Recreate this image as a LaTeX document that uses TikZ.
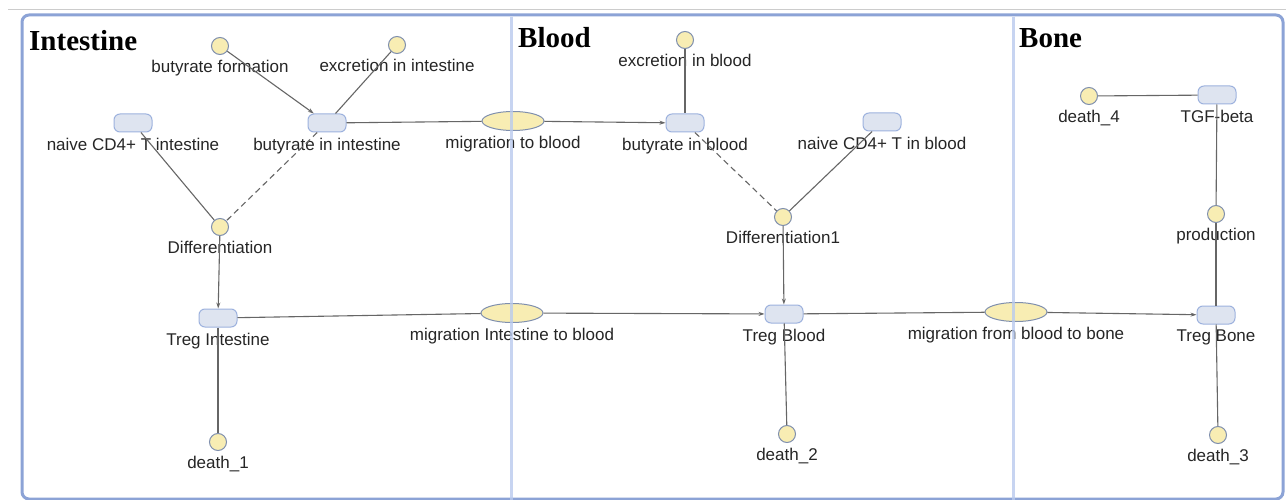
\documentclass[tikz,border=0pt]{standalone}
\usepackage{fontspec}
\setmainfont{Liberation Sans}
\newfontfamily\titlefont{Liberation Serif}
\usetikzlibrary{shapes.geometric,arrows.meta}

\definecolor{rxnfill}{HTML}{F8EDB3}
\definecolor{rxnline}{HTML}{7F8FAE}
\definecolor{spcfill}{HTML}{DEE4F0}
\definecolor{spcline}{HTML}{9DB2DE}
\definecolor{framecol}{HTML}{8CA3D6}
\definecolor{divcol}{HTML}{B9CAEE}
\definecolor{edgecol}{HTML}{666666}

\begin{document}
\begin{tikzpicture}[x=1pt, y=-1pt, >={Stealth[length=6pt,width=4pt]},
  rxn/.style={circle, draw=rxnline, fill=rxnfill, minimum size=17pt, inner sep=0pt, line width=1pt},
  spc/.style={rectangle, rounded corners=6pt, draw=spcline, fill=spcfill, minimum width=38pt, minimum height=18pt, inner sep=0pt, line width=1pt},
  trans/.style={ellipse, draw=rxnline, fill=rxnfill, minimum width=62pt, minimum height=19pt, inner sep=0pt, line width=1pt},
  lbl/.style={font=\fontsize{17}{19}\selectfont, text=black!85, inner sep=1.5pt, label distance=3.5pt},
  flow/.style={draw=edgecol, line width=1.1pt},
  modif/.style={draw=edgecol, line width=1.1pt, dash pattern=on 6pt off 4pt},
  title/.style={font=\titlefont\bfseries\fontsize{29}{31}\selectfont, anchor=west, inner sep=0pt}]

  \useasboundingbox[fill=white] (0,0) rectangle (1286,500);
  \draw[black!20, line width=0.8pt] (8,9) -- (1286,9);
  \draw[framecol, line width=3pt, rounded corners=7pt] (22,15) rectangle (1283,499);

  % compartments
  \node[title] (tint) at (29,41) {Intestine};
  \node[title] (tblo) at (518,38) {Blood};
  \node[title] (tbon) at (1019,38) {Bone};

  % intestine
  \node[rxn, label={[lbl]below:butyrate formation}] (bform) at (220,46) {};
  \node[rxn, label={[lbl]below:excretion in intestine}] (exint) at (397,45) {};
  \node[spc, label={[lbl]below:naive CD4+ T intestine}] (naiveint) at (133,123) {};
  \node[spc, label={[lbl]below:butyrate in intestine}] (butint) at (327,123) {};
  \node[rxn, label={[lbl]below:Differentiation}] (diff) at (220,227) {};
  \node[spc, label={[lbl]below:Treg Intestine}] (tregint) at (218,318) {};
  \node[rxn, label={[lbl]below:death\_1}] (death1) at (218,442) {};

  % blood
  \node[trans, label={[lbl]below:migration to blood}] (migbut) at (513,121) {};
  \node[rxn, label={[lbl]below:excretion in blood}] (exblo) at (685,40) {};
  \node[spc, label={[lbl]below:butyrate in blood}] (butblo) at (685,123) {};
  \node[spc, label={[lbl]below:naive CD4+ T in blood}] (naiveblo) at (882,122) {};
  \node[rxn, label={[lbl]below:Differentiation1}] (diffb) at (783,217) {};
  \node[trans, label={[lbl]below:migration Intestine to blood}] (migtreg) at (512,313) {};
  \node[spc, label={[lbl]below:Treg Blood}] (tregblo) at (784,314) {};
  \node[rxn, label={[lbl]below:death\_2}] (death2) at (787,434) {};

  % bone
  \node[trans, label={[lbl]below:migration from blood to bone}] (migbone) at (1016,312) {};
  \node[rxn, label={[lbl]below:death\_4}] (death4) at (1089,96) {};
  \node[spc, label={[lbl]below:TGF-beta}] (tgf) at (1217,95) {};
  \node[rxn, label={[lbl]below:production}] (prod) at (1216,214) {};
  \node[spc, label={[lbl]below:Treg Bone}] (tregbone) at (1216,315) {};
  \node[rxn, label={[lbl]below:death\_3}] (death3) at (1218,435) {};

  % reactions
  \draw[flow, ->] (bform) -- (butint);
  \draw[flow] (exint) -- (butint);
  \draw[flow] (butint) -- (migbut);
  \draw[flow, ->] (migbut) -- (butblo);
  \draw[flow] (exblo) -- (butblo);
  \draw[flow] (naiveint) -- (diff);
  \draw[modif] (butint) -- (diff);
  \draw[flow, ->] (diff) -- (tregint);
  \draw[modif] (butblo) -- (diffb);
  \draw[flow] (naiveblo) -- (diffb);
  \draw[flow, ->] (diffb) -- (tregblo);
  \draw[flow] (tregint) -- (migtreg);
  \draw[flow, ->] (migtreg) -- (tregblo);
  \draw[flow] (tregblo) -- (migbone);
  \draw[flow, ->] (migbone) -- (tregbone);
  \draw[flow] (tregint) -- (death1);
  \draw[flow] (tregblo) -- (death2);
  \draw[flow] (tregbone) -- (death3);
  \draw[flow] (death4) -- (tgf);
  \draw[flow] (tgf) -- (prod);
  \draw[flow] (prod) -- (tregbone);

  % dividers
  \draw[divcol, line width=3pt, opacity=0.8] (511,17) -- (511,500);
  \draw[divcol, line width=3pt, opacity=0.8] (1013,17) -- (1013,500);
\end{tikzpicture}
\end{document}
